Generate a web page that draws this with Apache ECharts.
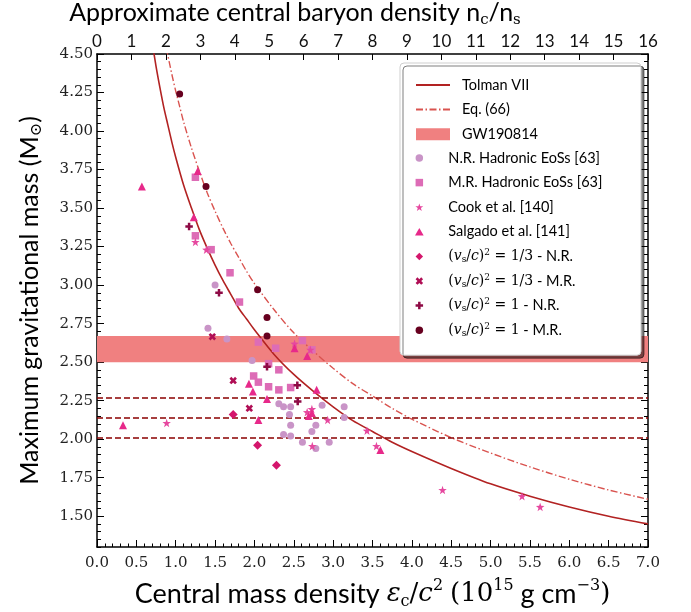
<!DOCTYPE html>
<html>
<head>
<meta charset="utf-8">
<script src="https://cdn.jsdelivr.net/npm/echarts@6/dist/echarts.min.js"></script>
<style>
html,body{margin:0;padding:0;background:#fff;}
#chart{width:691px;height:612px;}
</style>
</head>
<body>
<div id="chart"></div>
<script>
// ---------------- data ----------------
var xTicksBottom = [0, 7, 0.5];           // min, max, interval
var xTicksTop = [0, 16, 1];
var yMajorTicks = [1.50, 1.75, 2.00, 2.25, 2.50, 2.75, 3.00, 3.25, 3.50, 3.75, 4.00, 4.25, 4.50];

var tolmanVII = [[0.70,4.58],[0.75,4.42],[0.80,4.28],[0.85,4.15],[0.90,4.04],[0.95,3.93],[1.00,3.83],[1.10,3.65],[1.20,3.50],[1.30,3.36],[1.40,3.24],[1.50,3.13],[1.60,3.03],[1.70,2.94],[1.80,2.85],[1.90,2.78],[2.00,2.71],[2.25,2.55],[2.50,2.42],[2.75,2.31],[3.00,2.21],[3.25,2.12],[3.50,2.05],[3.75,1.98],[4.00,1.92],[4.50,1.81],[5.00,1.71],[5.50,1.63],[6.00,1.56],[6.50,1.50],[7.00,1.45]];
var eq66 = [[0.88,4.54],[0.95,4.37],[1.00,4.26],[1.05,4.16],[1.10,4.06],[1.20,3.89],[1.30,3.74],[1.40,3.60],[1.50,3.48],[1.60,3.37],[1.70,3.27],[1.80,3.18],[1.90,3.09],[2.00,3.01],[2.25,2.84],[2.50,2.69],[2.75,2.57],[3.00,2.46],[3.25,2.36],[3.50,2.28],[3.75,2.20],[4.00,2.13],[4.50,2.01],[5.00,1.91],[5.50,1.82],[6.00,1.74],[6.50,1.67],[7.00,1.61]];
var gwBand = [2.50, 2.67];
var pulsarMasses = [2.27, 2.14, 2.01];

var nrHadronic = [[1.50,3.00],[1.41,2.72],[1.65,2.65],[1.97,2.51],[2.31,2.23],[2.37,2.21],[2.46,2.21],[2.86,2.22],[3.14,2.21],[2.445,2.16],[3.14,2.14],[2.46,2.09],[2.78,2.09],[2.73,2.05],[2.37,2.03],[2.46,2.02],[2.61,1.98],[2.95,1.98],[2.78,1.94]];
var mrHadronic = [[1.25,3.70],[1.25,3.32],[1.45,3.23],[1.69,3.08],[1.81,2.89],[2.05,2.63],[2.27,2.59],[2.61,2.64],[2.73,2.58],[2.18,2.49],[2.31,2.45],[1.99,2.41],[2.05,2.37],[2.18,2.34],[2.31,2.32],[2.46,2.335]];
var cook = [[1.25,3.28],[1.39,3.23],[2.51,2.62],[2.71,2.58],[2.67,2.175],[2.73,2.195],[2.93,2.125],[0.885,2.105],[3.43,2.055],[2.735,1.955],[3.55,1.955],[4.39,1.67],[5.40,1.63],[5.63,1.56]];
var salgado = [[0.57,3.64],[1.28,3.74],[1.23,3.44],[2.51,2.59],[2.67,2.54],[1.93,2.36],[1.98,2.31],[2.79,2.32],[2.16,2.26],[2.73,2.17],[2.69,2.15],[2.05,2.125],[0.33,2.09],[3.60,1.93]];
var vs13NR = [[1.73,2.16],[2.04,1.96],[2.28,1.83]];
var vs13MR = [[1.465,2.665],[1.73,2.38],[1.935,2.20]];
var vs1NR = [[1.17,3.38],[1.55,2.95],[2.16,2.47],[2.545,2.35],[2.55,2.245]];
var vs1MR = [[1.05,4.24],[1.385,3.64],[2.04,2.97],[2.16,2.79],[2.16,2.67]];

// ---------------- styles ----------------
var SANS = 'Lato';
var SERIF = 'DejaVu Serif';
var STAR = 'path://M0,-10L2.35,-3.24L9.51,-3.09L3.8,1.24L5.88,8.09L0,4L-5.88,8.09L-3.8,1.24L-9.51,-3.09L-2.35,-3.24Z';
var PLUS = 'path://M-1,-3H1V-1H3V1H1V3H-1V1H-3V-1H-1Z';
var XMARK = 'path://M2,-4L4,-2L2,0L4,2L2,4L0,2L-2,4L-4,2L-2,0L-4,-2L-2,-4L0,-2Z';
var SQUARE = 'path://M0,0H10V10H0Z';
var TRI = 'path://M0,0L5.77,10H-5.77Z';
var DIAM = 'path://M0,-10L10,0L0,10L-10,0Z';

var names = {
  nr: 'N.R. Hadronic EoSs [63]',
  mr: 'M.R. Hadronic EoSs [63]',
  cook: 'Cook et al. [140]',
  salg: 'Salgado et al. [141]',
  a: 'vs13NR', b: 'vs13MR', c: 'vs1NR', d: 'vs1MR'
};
var mathLabel = {
  vs13NR: '{m|(}{mi|v}{sb|s}{m|/}{mi|c}{m|)}{sp|2}{m| = 1/3} - N.R.',
  vs13MR: '{m|(}{mi|v}{sb|s}{m|/}{mi|c}{m|)}{sp|2}{m| = 1/3} - M.R.',
  vs1NR: '{m|(}{mi|v}{sb|s}{m|/}{mi|c}{m|)}{sp|2}{m| = 1} - N.R.',
  vs1MR: '{m|(}{mi|v}{sb|s}{m|/}{mi|c}{m|)}{sp|2}{m| = 1} - M.R.'
};

function scatter(name, data, symbol, size, color) {
  return {
    name: name, type: 'scatter', data: data, symbol: symbol, symbolSize: size,
    itemStyle: { color: color, opacity: 1 }, z: 5, xAxisIndex: 0, yAxisIndex: 0
  };
}

var axisLineStyle = { color: '#000', width: 1.5 };

var chart = echarts.init(document.getElementById('chart'), null, { renderer: 'canvas' });
var option = {
  animation: false,
  backgroundColor: '#fff',
  grid: { left: 97, right: 43, top: 54, bottom: 65, containLabel: false, outerBoundsMode: 'none' },
  xAxis: [
    {
      type: 'value', position: 'bottom', min: xTicksBottom[0], max: xTicksBottom[1], interval: xTicksBottom[2],
      axisLine: { show: true, lineStyle: axisLineStyle },
      axisTick: { show: true, inside: true, length: 7, lineStyle: { color: '#000', width: 1 } },
      minorTick: { show: true, splitNumber: 5, length: 3.5, lineStyle: { color: '#000', width: 1 } },
      splitLine: { show: false },
      axisLabel: { margin: 9, fontFamily: SERIF, fontSize: 15, color: '#222', formatter: function (v) { return v.toFixed(1); } },
      name: 'Central mass density {mi|ε}{sb|c}{m|/}{mi|c}{sp|2} {m|(10}{sp|15} g cm{sp|−3}{m|)}',
      nameLocation: 'middle', nameGap: 31,
      nameTextStyle: {
        fontFamily: SANS, fontSize: 27, color: '#000', lineHeight: 32,
        rich: {
          m: { fontFamily: SERIF, fontSize: 26, lineHeight: 32 },
          mi: { fontFamily: SERIF, fontStyle: 'italic', fontSize: 26, lineHeight: 32 },
          sb: { fontFamily: SERIF, fontSize: 16, lineHeight: 19, verticalAlign: 'bottom' },
          sp: { fontFamily: SERIF, fontSize: 16, lineHeight: 19, verticalAlign: 'top' }
        }
      }
    },
    {
      type: 'value', position: 'top', min: xTicksTop[0], max: xTicksTop[1], interval: xTicksTop[2],
      axisLine: { show: true, lineStyle: axisLineStyle },
      axisTick: { show: true, inside: true, length: 6, lineStyle: { color: '#000', width: 1 } },
      splitLine: { show: false },
      axisLabel: { margin: 4, fontFamily: SANS, fontSize: 17, color: '#111' },
      name: 'Approximate central baryon density n{sb|c}/n{sb|s}',
      nameLocation: 'middle', nameGap: 19,
      nameTextStyle: {
        fontFamily: SANS, fontSize: 25, color: '#000', lineHeight: 30, padding: [0, 155, 0, 0],
        rich: {
          sb: { fontFamily: SERIF, fontSize: 15, lineHeight: 18, verticalAlign: 'bottom' }
        }
      }
    }
  ],
  yAxis: [
    {
      type: 'value', position: 'left', min: 1.3, max: 4.5, interval: 0.05,
      axisLine: { show: true, lineStyle: axisLineStyle },
      axisTick: { show: true, inside: true, length: 4, lineStyle: { color: '#000', width: 1 } },
      axisLabel: { show: false }, splitLine: { show: false },
      name: 'Maximum gravitational mass (M{sb|⊙})',
      nameLocation: 'middle', nameGap: 52,
      nameTextStyle: {
        fontFamily: SANS, fontSize: 25, color: '#000', lineHeight: 30,
        rich: { sb: { fontFamily: SERIF, fontSize: 16, lineHeight: 18, verticalAlign: 'bottom' } }
      }
    },
    {
      type: 'value', position: 'left', min: 1.3, max: 4.5,
      axisLine: { show: false },
      axisTick: { show: true, inside: true, length: 7, customValues: yMajorTicks, lineStyle: { color: '#000', width: 1 } },
      axisLabel: { show: true, margin: 4, customValues: yMajorTicks, fontFamily: SERIF, fontSize: 15, color: '#222', formatter: function (v) { return v.toFixed(2); } },
      splitLine: { show: false }
    },
    {
      type: 'value', position: 'right', min: 1.3, max: 4.5, interval: 0.05,
      axisLine: { show: true, lineStyle: axisLineStyle },
      axisTick: { show: true, inside: true, length: 4, lineStyle: { color: '#000', width: 1 } },
      axisLabel: { show: false }, splitLine: { show: false }
    },
    {
      type: 'value', position: 'right', min: 1.3, max: 4.5,
      axisLine: { show: false },
      axisTick: { show: true, inside: true, length: 7, customValues: yMajorTicks, lineStyle: { color: '#000', width: 1 } },
      axisLabel: { show: false, customValues: yMajorTicks },
      splitLine: { show: false }
    }
  ],
  legend: [
    {
      orient: 'vertical', left: 400, top: 63,
      padding: [14, 103, 213, 15],
      itemWidth: 34, itemHeight: 12, itemGap: 8.6,
      backgroundColor: '#fff', borderColor: '#cfcfcf', borderWidth: 1, borderRadius: 4,
      shadowColor: 'rgba(0,0,0,0.5)', shadowBlur: 0, shadowOffsetX: 3, shadowOffsetY: 3,
      textStyle: { fontFamily: SANS, fontSize: 14.5, color: '#000', lineHeight: 16, padding: [0, 0, 0, 7] },
      data: [
        { name: 'Tolman VII', itemStyle: { opacity: 0 } },
        { name: 'Eq. (66)', itemStyle: { opacity: 0 } },
        { name: 'GW190814', icon: 'rect', itemStyle: { color: '#f08080' } }
      ],
      selectedMode: false, z: 10
    },
    {
      orient: 'vertical', left: 415, top: 150, padding: 0,
      itemWidth: 34, itemHeight: 7.5, itemGap: 8.6,
      textStyle: {
        fontFamily: SANS, fontSize: 14.5, color: '#000', lineHeight: 16, padding: [0, 0, 0, 7],
        rich: {
          m: { fontFamily: SERIF, fontSize: 14, lineHeight: 16 },
          mi: { fontFamily: SERIF, fontStyle: 'italic', fontSize: 14, lineHeight: 16 },
          sb: { fontFamily: SERIF, fontSize: 9, lineHeight: 10, verticalAlign: 'bottom' },
          sp: { fontFamily: SERIF, fontSize: 9, lineHeight: 10, verticalAlign: 'top' }
        }
      },
      formatter: function (n) { return mathLabel[n] || n; },
      data: [names.nr, names.mr, names.cook, names.salg, names.a, names.b, names.c, names.d],
      selectedMode: false, z: 11
    }
  ],
  series: [
    {
      name: 'GW190814', type: 'line', data: [], xAxisIndex: 0, yAxisIndex: 0,
      itemStyle: { color: '#f08080' }, z: 1,
      markArea: {
        silent: true, itemStyle: { color: '#f08080', opacity: 1 },
        data: [[{ yAxis: gwBand[0] }, { yAxis: gwBand[1] }]]
      }
    },
    {
      name: 'pulsars', type: 'line', data: [], xAxisIndex: 0, yAxisIndex: 0, z: 2,
      markLine: {
        silent: true, symbol: 'none', label: { show: false },
        lineStyle: { color: '#8b0000', width: 1.5, type: [6, 3] },
        data: pulsarMasses.map(function (m) { return { yAxis: m }; })
      }
    },
    {
      name: 'Tolman VII', type: 'line', data: tolmanVII, smooth: 0.3,
      showSymbol: false, symbol: 'none', xAxisIndex: 0, yAxisIndex: 0, z: 3,
      itemStyle: { color: '#b22222' }, lineStyle: { color: '#b22222', width: 1.6 }
    },
    {
      name: 'Eq. (66)', type: 'line', data: eq66, smooth: 0.3,
      showSymbol: false, symbol: 'none', xAxisIndex: 0, yAxisIndex: 0, z: 3,
      itemStyle: { color: '#d9534f' }, lineStyle: { color: '#d9534f', width: 1.4, type: [7, 2.5, 1.5, 2.5] }
    },
    scatter(names.nr, nrHadronic, 'circle', 7, '#c994c7'),
    scatter(names.mr, mrHadronic, SQUARE, 7.5, '#dd6cb6'),
    scatter(names.cook, cook, STAR, 8.5, '#e6489f'),
    scatter(names.salg, salgado, TRI, 8, '#e7298a'),
    scatter(names.a, vs13NR, DIAM, 9, '#d4166c'),
    scatter(names.b, vs13MR, XMARK, 7.5, '#b00e55'),
    scatter(names.c, vs1NR, PLUS, 7.5, '#8e0a45'),
    scatter(names.d, vs1MR, 'circle', 7, '#67001f')
  ]
};
chart.setOption(option);
</script>
</body>
</html>
